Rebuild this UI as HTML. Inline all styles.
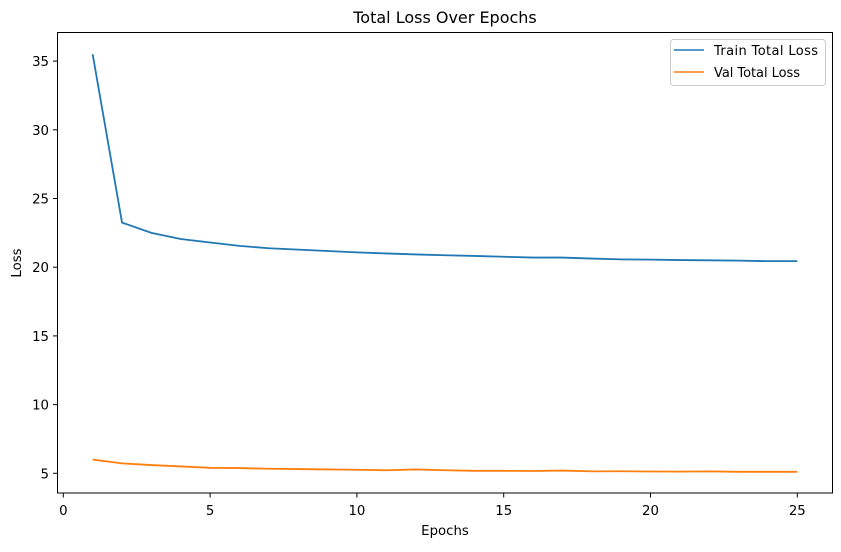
<!DOCTYPE html>
<html><head><meta charset="utf-8"><style>
body{margin:0;background:#fff}
svg text{font-family:"DejaVu Sans","Liberation Sans",sans-serif;fill:#000}
</style></head><body>
<svg width="841" height="547" id="c">
<text x="445" y="23" font-size="16" text-anchor="middle">Total Loss Over Epochs</text>
<g id="plot"></g>
<rect x="57.5" y="32.5" width="775" height="460.5" fill="none" stroke="#000" stroke-width="1"/>
<text x="445" y="535" font-size="13.3" text-anchor="middle">Epochs</text>
<text x="21" y="263" font-size="13.3" text-anchor="middle" transform="rotate(-90 21 263)">Loss</text>
<g>
<rect x="670.5" y="39.5" width="155" height="46" rx="3" fill="#fff" stroke="#ccc"/>
<line x1="674" y1="50" x2="704" y2="50" stroke="#1f77b4" stroke-width="1.5"/>
<text x="714" y="55" font-size="13" textLength="104">Train Total Loss</text>
<line x1="674" y1="72" x2="704" y2="72" stroke="#ff7f0e" stroke-width="1.5"/>
<text x="714" y="77" font-size="13" textLength="86">Val Total Loss</text>
</g>
</svg>
<script>
const epochs=[1,2,3,4,5,6,7,8,9,10,11,12,13,14,15,16,17,18,19,20,21,22,23,24,25];
const trainLoss=[35.5,23.25,22.5,22.05,21.8,21.55,21.38,21.28,21.18,21.08,21.0,20.93,20.87,20.82,20.76,20.7,20.7,20.63,20.57,20.55,20.52,20.5,20.48,20.44,20.44];
const valLoss=[6.0,5.72,5.6,5.5,5.4,5.38,5.33,5.31,5.28,5.26,5.22,5.28,5.22,5.18,5.18,5.17,5.2,5.14,5.15,5.13,5.12,5.14,5.11,5.11,5.11];
const xTicks=[0,5,10,15,20,25];
const yTicks=[5,10,15,20,25,30,35];
const NS="http://www.w3.org/2000/svg";
const X=v=>63.3+v*29.36;
const Y=v=>473.3-(v-5)*13.74;
const g=document.getElementById('plot');
function mk(t,a){const e=document.createElementNS(NS,t);for(const k in a)e.setAttribute(k,a[k]);g.appendChild(e);return e;}
xTicks.forEach(v=>{
  const l=mk('line',{x1:X(v),x2:X(v),y1:493,y2:497.5,stroke:'#000'});
  
  
  const t=mk('text',{x:X(v),y:515,'font-size':13.3,'text-anchor':'middle'});t.textContent=v;
  
  
});
yTicks.forEach(v=>{
  const l=mk('line',{x1:53,x2:57.5,y1:Y(v),y2:Y(v),stroke:'#000'});
  
  
  const t=mk('text',{x:49,y:Y(v)+5,'font-size':13.3,'text-anchor':'end'});t.textContent=v;
  
  
});
const p1=mk('polyline',{points:epochs.map((e,i)=>X(e)+','+Y(trainLoss[i])).join(' '),fill:'none',stroke:'#1f77b4','stroke-width':1.8});


const p2=mk('polyline',{points:epochs.map((e,i)=>X(e)+','+Y(valLoss[i])).join(' '),fill:'none',stroke:'#ff7f0e','stroke-width':1.8});


</script>
</body></html>
